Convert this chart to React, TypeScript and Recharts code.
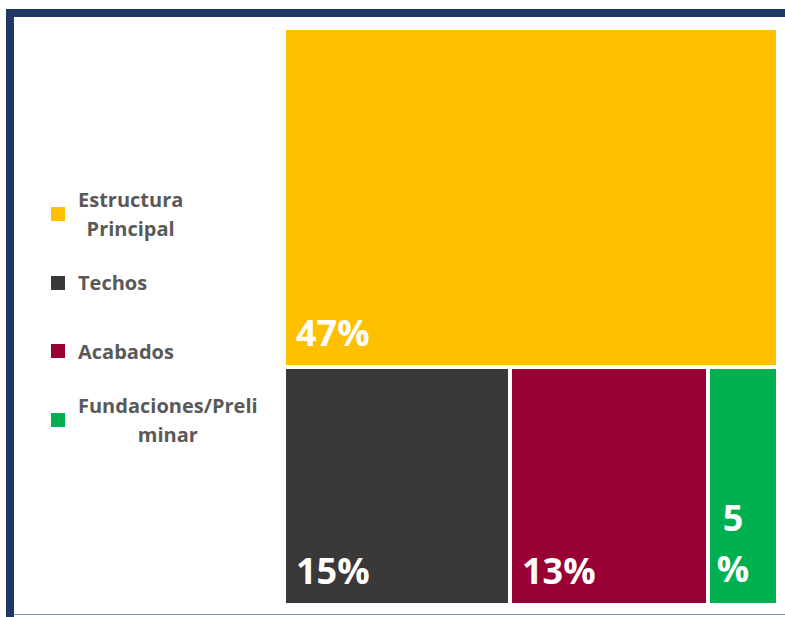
import React from 'react';
import { Treemap } from 'recharts';

const categories = ['Estructura Principal', 'Techos', 'Acabados', 'Fundaciones/Preliminar'];
const shares = [47, 15.1, 13.2, 4.7];
const colors = ['#FFC000', '#3B3838', '#990033', '#00B050'];

const treeData = categories.map((name, i) => ({ name, size: shares[i], color: colors[i] }));

const FONT = '"Open Sans", "Noto Sans", sans-serif';

// Excel-style wrapping: break on spaces, else hard-break long words
const wrapLegend = (text: string, max = 17): string[] => {
  if (text.length <= max) return [text];
  if (text.includes(' ')) return text.split(' ');
  const out: string[] = [];
  for (let i = 0; i < text.length; i += max) out.push(text.slice(i, i + max));
  return out;
};

const Cell = (props: any) => {
  const { x, y, width, height, depth, name, value } = props;
  if (!depth || depth < 1) return <g />;
  const idx = categories.indexOf(name);
  const fx = x + 2;
  const fy = y + 2;
  const fw = width - 4;
  const fh = height - 4;
  const label = `${Math.round(value)}%`;
  const narrow = fw < 70;
  return (
    <g>
      <rect x={fx} y={fy} width={fw} height={fh} fill={colors[idx]} stroke="none" />
      {narrow ? (
        <text fill="#FFFFFF" fontFamily={FONT} fontWeight={700} fontSize={36} textAnchor="middle">
          <tspan x={fx + 23} y={fy + fh - 72}>{Math.round(value)}</tspan>
          <tspan x={fx + 23} y={fy + fh - 21}>%</tspan>
        </text>
      ) : (
        <text x={fx + 10} y={fy + fh - 19} fill="#FFFFFF" fontFamily={FONT} fontWeight={700} fontSize={36}>
          {label}
        </text>
      )}
    </g>
  );
};

const App: React.FC = () => {
  return (
    <div style={{ position: 'absolute', left: 0, top: 0, width: 785, height: 617, overflow: 'hidden', background: '#fff' }}>
      <div
        style={{
          position: 'absolute', left: 6, top: 9, width: 820, height: 640,
          borderTop: '8px solid #1F3864', borderLeft: '8px solid #1F3864', boxSizing: 'border-box',
        }}
      />
      <div style={{ position: 'absolute', left: 14, top: 614, width: 780, height: 1, background: '#8395B8' }} />

      {categories.map((cat, i) => {
        const cy = 214 + i * 68.7;
        const lines = wrapLegend(cat);
        return (
          <React.Fragment key={cat}>
            <div style={{ position: 'absolute', left: 51, top: cy - 7, width: 14, height: 14, background: colors[i] }} />
            <div
              style={{
                position: 'absolute', left: 78, top: cy - (lines.length * 29) / 2,
                fontFamily: FONT, fontWeight: 700, fontSize: 20, lineHeight: '29px',
                color: '#595959', textAlign: 'center', whiteSpace: 'nowrap',
              }}
            >
              {lines.map((l, j) => (
                <div key={j}>{l}</div>
              ))}
            </div>
          </React.Fragment>
        );
      })}

      <div style={{ position: 'absolute', left: 284, top: 28 }}>
        <Treemap
          width={494}
          height={577}
          data={treeData}
          dataKey="size"
          nameKey="name"
          stroke="none"
          aspectRatio={0.8}
          isAnimationActive={false}
          content={<Cell />}
        />
      </div>
    </div>
  );
};

export default App;
